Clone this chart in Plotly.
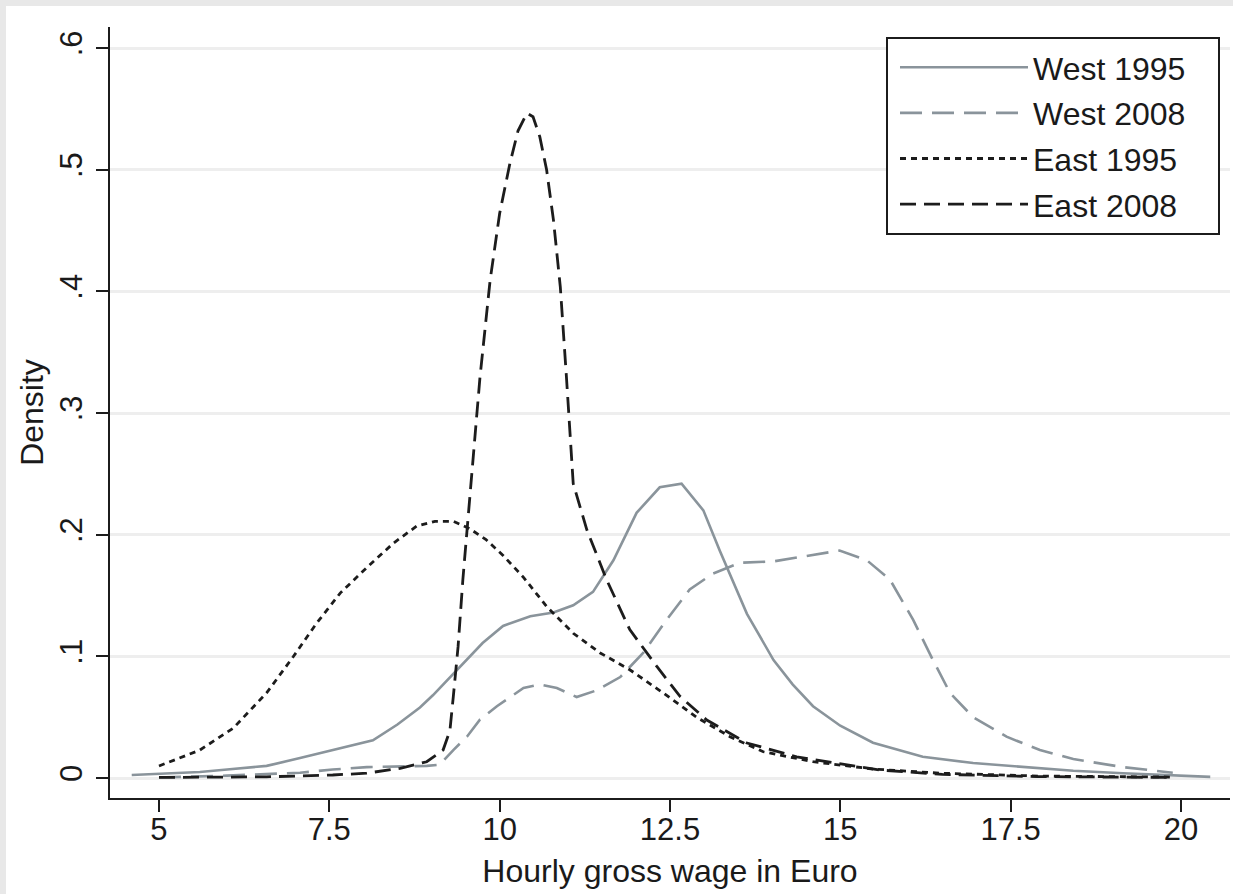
import plotly.graph_objects as go

# ---- data ----
west1995_x = [4.6, 5.0, 5.6, 6.0, 6.58, 7.07, 7.55, 8.14, 8.5, 8.83, 9.02, 9.37, 9.75, 10.05,
              10.45, 10.79, 11.08, 11.37, 11.67, 12.01, 12.35, 12.67, 12.99, 13.23, 13.63,
              14.02, 14.3, 14.6, 15.0, 15.48, 16.21, 16.95, 17.68, 18.42, 19.15, 19.88, 20.43]
west1995_y = [0.0025, 0.0035, 0.005, 0.007, 0.010, 0.0164, 0.023, 0.031, 0.044, 0.058, 0.068,
              0.089, 0.111, 0.125, 0.133, 0.136, 0.142, 0.153, 0.179, 0.218, 0.239, 0.242,
              0.220, 0.187, 0.135, 0.097, 0.077, 0.059, 0.043, 0.029, 0.0175, 0.0123, 0.009,
              0.006, 0.004, 0.0025, 0.001]

west2008_x = [5.0, 6.0, 7.07, 7.55, 8.05, 8.5, 8.93, 9.12, 9.32, 9.52, 9.71, 9.96, 10.35, 10.59,
              10.84, 11.13, 11.42, 11.77, 12.11, 12.45, 12.79, 13.13, 13.53, 14.01, 14.45,
              14.99, 15.39, 15.73, 16.07, 16.36, 16.61, 16.95, 17.44, 17.93, 18.42, 19.15, 19.88]
west2008_y = [0.0005, 0.002, 0.0044, 0.007, 0.009, 0.0095, 0.010, 0.011, 0.023, 0.034, 0.048,
              0.059, 0.074, 0.077, 0.074, 0.0666, 0.072, 0.083, 0.103, 0.130, 0.155, 0.168,
              0.177, 0.178, 0.182, 0.187, 0.179, 0.163, 0.130, 0.097, 0.070, 0.050, 0.034,
              0.023, 0.0156, 0.009, 0.0044]

east1995_x = [5.0, 5.6, 6.09, 6.58, 6.97, 7.31, 7.66, 8.05, 8.44, 8.78, 9.05, 9.32, 9.56, 9.80,
              10.05, 10.35, 10.69, 11.08, 11.47, 11.91, 12.40, 12.89, 13.38, 13.87, 14.60, 15.48,
              16.46, 17.93, 19.88]
east1995_y = [0.0099, 0.023, 0.041, 0.070, 0.0997, 0.127, 0.152, 0.173, 0.193, 0.207, 0.211,
              0.211, 0.205, 0.196, 0.183, 0.165, 0.141, 0.119, 0.103, 0.089, 0.070, 0.050,
              0.034, 0.0216, 0.0134, 0.0074, 0.004, 0.0016, 0.0008]

east2008_x = [5.0, 6.58, 7.55, 8.05, 8.54, 8.93, 9.17, 9.27, 9.32, 9.39, 9.46, 9.52, 9.59, 9.71,
              9.86, 10.0, 10.15, 10.27, 10.40, 10.49, 10.59, 10.69, 10.79, 10.89, 10.98, 11.08,
              11.28, 11.57, 11.91, 12.31, 12.65, 13.04, 13.63, 14.36, 15.58, 16.5, 17.9, 19.88]
east2008_y = [0.0005, 0.001, 0.0025, 0.004, 0.008, 0.0134, 0.023, 0.039, 0.067, 0.108, 0.163,
              0.204, 0.245, 0.3285, 0.409, 0.464, 0.505, 0.532, 0.5465, 0.5435, 0.527, 0.4997,
              0.4586, 0.404, 0.330, 0.242, 0.204, 0.163, 0.122, 0.0915, 0.067, 0.0477, 0.0288,
              0.0175, 0.0066, 0.003, 0.0012, 0.0005]

series_names = ["West 1995", "West 2008", "East 1995", "East 2008"]
x_ticks = [5, 7.5, 10, 12.5, 15, 17.5, 20]
x_ticklabels = ["5", "7.5", "10", "12.5", "15", "17.5", "20"]
y_ticks = [0, 0.1, 0.2, 0.3, 0.4, 0.5, 0.6]
y_ticklabels = ["0", ".1", ".2", ".3", ".4", ".5", ".6"]
x_title = "Hourly gross wage in Euro"
y_title = "Density"

GRAY = "#8a949b"
BLACK = "#1c1c1c"
TEXT = "#1a1a1a"
FONT = "Liberation Sans, Arial, sans-serif"
FS = 31
FS_T = 32

fig = go.Figure()
styles = [
    (west1995_x, west1995_y, GRAY, "solid", 2.6),
    (west2008_x, west2008_y, GRAY, "22px,10px", 2.6),
    (east1995_x, east1995_y, BLACK, "6px,5px", 2.8),
    (east2008_x, east2008_y, BLACK, "16px,8px", 2.8),
]
for i, (xs, ys, col, dash, w) in enumerate(styles):
    fig.add_trace(go.Scatter(
        x=xs, y=ys, mode="lines", name=series_names[i], legendgroup=series_names[i],
        line=dict(color=col, dash=dash, width=w),
    ))

W, H = 1233, 894
L, R, T, B = 110, 3, 27, 96
pw, ph = W - L - R, H - T - B

def px_x(p):
    return (p - L) / pw

def px_y(p):
    return (H - B - p) / ph

# white page panel inside the light grey frame
fig.add_shape(type="rect", xref="paper", yref="paper",
              x0=px_x(6), x1=px_x(W + 5), y0=px_y(H + 5), y1=px_y(6),
              fillcolor="white", line=dict(width=0), layer="below")
# legend box
fig.add_shape(type="rect", xref="paper", yref="paper",
              x0=px_x(887), x1=px_x(1219), y0=px_y(234), y1=px_y(38),
              fillcolor="white", line=dict(width=2, color=BLACK), layer="above")

fig.update_layout(
    width=W, height=H, autosize=False,
    margin=dict(l=L, r=R, t=T, b=B, pad=0),
    paper_bgcolor="#e8e8e8", plot_bgcolor="white",
    font=dict(family=FONT, size=FS, color=TEXT),
    showlegend=True,
    legend=dict(
        x=px_x(889), y=px_y(40), xanchor="left", yanchor="top",
        bgcolor="rgba(0,0,0,0)", borderwidth=0,
        font=dict(family=FONT, size=FS_T, color=TEXT),
        itemwidth=128, tracegroupgap=1, indentation=6,
    ),
)
fig.update_xaxes(
    range=[4.281, 20.72], tickmode="array", tickvals=x_ticks, ticktext=x_ticklabels,
    showgrid=False, zeroline=False, showline=True, linecolor=BLACK, linewidth=2,
    ticks="outside", ticklen=12, tickwidth=2, tickcolor=BLACK, ticklabelstandoff=-9,
    title=dict(text=x_title, font=dict(size=FS_T, color=TEXT), standoff=13),
)
fig.update_yaxes(
    range=[-0.0164, 0.6173], tickmode="array", tickvals=y_ticks, ticktext=y_ticklabels,
    showgrid=True, gridcolor="#eeeeee", gridwidth=3, zeroline=False,
    showline=True, linecolor=BLACK, linewidth=2,
    ticks="outside", ticklen=12, tickwidth=2, tickcolor=BLACK, tickangle=-90,
    ticklabelstandoff=2,
    title=dict(text=y_title, font=dict(size=FS_T, color=TEXT), standoff=0),
)

fig.write_html("out.html", config={"displayModeBar": False},
               post_script="document.body.style.margin='0px';")
